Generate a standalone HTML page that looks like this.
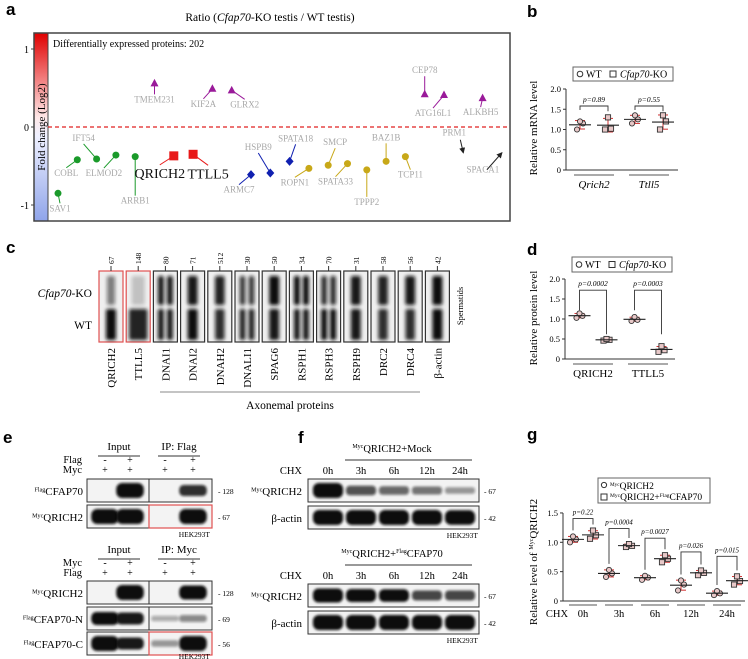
<!DOCTYPE html>
<html><head><meta charset="utf-8">
<style>
html,body{margin:0;padding:0;background:#fff;}
svg{display:block;font-family:"Liberation Serif",serif;}
.pl{font-family:"Liberation Sans",sans-serif;font-weight:bold;font-size:17px;}
</style></head>
<body>
<svg id="fig" width="748" height="659" viewBox="0 0 748 659" xmlns="http://www.w3.org/2000/svg">
<defs>
<linearGradient id="cbar" x1="0" y1="0" x2="0" y2="1">
<stop offset="0" stop-color="#e00000"/><stop offset="0.45" stop-color="#ffe8e8"/><stop offset="0.55" stop-color="#eef0ff"/><stop offset="1" stop-color="#8fa4ea"/>
</linearGradient>
<filter id="blur" x="-50%" y="-50%" width="200%" height="200%"><feGaussianBlur stdDeviation="1.3"/></filter>
<filter id="blur2" x="-50%" y="-50%" width="200%" height="200%"><feGaussianBlur stdDeviation="1.8"/></filter>
<marker id="arr" markerWidth="6" markerHeight="6" refX="5" refY="3" orient="auto"><path d="M0,0 L6,3 L0,6 z" fill="#222"/></marker>
</defs>
<text class="pl" x="6" y="15">a</text>
<text class="pl" x="527" y="17">b</text>
<text class="pl" x="6" y="253">c</text>
<text class="pl" x="527" y="255">d</text>
<text class="pl" x="3" y="443">e</text>
<text class="pl" x="298" y="443">f</text>
<text class="pl" x="527" y="440">g</text>

<text x="270" y="21" font-size="11.5" text-anchor="middle">Ratio (<tspan font-style="italic">Cfap70</tspan>-KO testis / WT testis)</text>
<rect x="34" y="33" width="14" height="188" fill="url(#cbar)"/>
<rect x="34" y="33" width="476" height="188" fill="none" stroke="#444" stroke-width="1.5"/>
<line x1="48" y1="33" x2="48" y2="221" stroke="#444" stroke-width="1"/>
<text transform="translate(45,127) rotate(-90)" font-size="11" text-anchor="middle">Fold change (Log2)</text>
<text x="53" y="47" font-size="10">Differentially expressed proteins: 202</text>
<g id="ga"></g>

<g id="gb"></g>
<g id="gd"></g>
<g id="gg"></g>
<g id="gc"></g>
<g id="ge"></g>
<g id="gf"></g>
</svg>
<script>
const NS='http://www.w3.org/2000/svg';
function mk(tag,attrs,parent){const e=document.createElementNS(NS,tag);for(const k in attrs)e.setAttribute(k,attrs[k]);parent.appendChild(e);return e;}
function tx(parent,x,y,str,attrs){const e=mk('text',Object.assign({x:x,y:y},attrs||{}),parent);e.textContent=str;return e;}
function supText(parent,x,y,sup,main,size,anchor){const e=mk('text',{x:x,y:y,'font-size':size,'text-anchor':anchor||'start'},parent);const s=mk('tspan',{'font-size':size*0.55,dy:-size*0.3},e);s.textContent=sup;const m=mk('tspan',{dy:size*0.3},e);m.textContent=main;return e;}

/* ---------- Panel a data ---------- */
const aProteins=['SAV1','COBL','IFT54','ELMOD2','ARRB1','TMEM231','QRICH2','TTLL5','KIF2A','GLRX2','ARMC7','HSPB9','SPATA18','ROPN1','SMCP','SPATA33','TPPP2','BAZ1B','TCP11','CEP78','ATG16L1','PRM1','ALKBH5','SPACA1'];
const aLog2FC=[-0.85,-0.42,-0.41,-0.36,-0.38,0.56,-0.37,-0.35,0.49,0.47,-0.61,-0.59,-0.44,-0.53,-0.49,-0.47,-0.55,-0.44,-0.38,0.42,0.41,-0.33,0.37,-0.33];
const aClass=['g','g','g','g','g','p','r','r','p','p','b','b','b','y','y','y','y','y','y','p','p','k','p','k'];
const aTicks=[1,0,-1];
const aLabelDx=[2,-11,-13,-12,0,0,-14,15,-9,13,-12,-12,6,-14,7,-12,0,0,5,0,-11,-9,-2,-19];
const aLabelDy=[18,16,-18,21,47,19,22,24,18,17,18,-23,-20,17,-20,21,35,-21,21,-21,21,-17,17,20];
const aColors={g:'#1a9a2a',p:'#9a1a9a',r:'#e81818',b:'#1020b0',y:'#c8a818',k:'#222'};
const ax=i=>58+19.3*i;
const ay=v=>127-78*v;
const ga=document.getElementById('ga');
aTicks.forEach(t=>{
 const l=tx(ga,29,ay(t)+4,String(t),{'font-size':10,'text-anchor':'end'});
 
 
 const tk=mk('line',{x1:31,x2:34,y1:ay(t),y2:ay(t),stroke:'#444'},ga);
 
 
});
const zl=mk('line',{x1:48,x2:510,y1:ay(0),y2:ay(0),stroke:'#e02020','stroke-width':1.2,'stroke-dasharray':'4,3'},ga);


aProteins.forEach((name,i)=>{
 const x=ax(i),y=ay(aLog2FC[i]),c=aClass[i];
 const lx=x+aLabelDx[i],ly=y+aLabelDy[i];
 const big=(c==='r');
 const col=aColors[c];
 if(c==='k'){
  let x0,y0;
  if(name==='PRM1'){x0=x-3;y0=y-13;}else{x0=x-15;y0=y+17;}
  const ar=mk('line',{x1:x0,y1:y0,x2:x,y2:y,stroke:'#222','stroke-width':1,'marker-end':'url(#arr)'},ga);
  
  
 } else {
  const ly2=ly<y?ly+3:ly-(big?13:8);
  const cn=mk('line',{x1:x,y1:y,x2:lx,y2:ly2,stroke:col,'stroke-width':1},ga);
  
  
  let m;
  if(c==='g'||c==='y') m=mk('circle',{cx:x,cy:y,r:3.5,fill:col},ga);
  else if(c==='r') m=mk('rect',{x:x-4.5,y:y-4.5,width:9,height:9,fill:col},ga);
  else if(c==='b') m=mk('polygon',{points:`${x},${y-4.5} ${x+4},${y} ${x},${y+4.5} ${x-4},${y}`,fill:col},ga);
  else m=mk('polygon',{points:`${x},${y-4.5} ${x+4},${y+3} ${x-4},${y+3}`,fill:col},ga);
  
  
 }
 const t=tx(ga,lx,ly,name,{'font-size':big?14:9,fill:big?'#111':'#a8a8a8','text-anchor':'middle'});
 
 
});

/* ---------- Panel b data ---------- */
const bGroups=['Qrich2','Ttll5'];
const bWT=[[1.0,1.15,1.2],[1.15,1.25,1.35]];
const bKO=[[1.0,1.02,1.3],[1.0,1.2,1.35]];
const bP=['p=0.89','p=0.55'];
const bTicks=[0,0.5,1.0,1.5,2.0];
/* ---------- Panel d data ---------- */
const dGroups=['QRICH2','TTLL5'];
const dWT=[[1.03,1.08,1.14],[0.95,0.98,1.05]];
const dKO=[[0.46,0.48,0.5],[0.18,0.22,0.32]];
const dP=['p=0.0002','p=0.0003'];
const dTicks=[0,0.5,1.0,1.5,2.0];
/* ---------- Panel g data ---------- */
const gGroups=['0h','3h','6h','12h','24h'];
const gCtrl=[[1.0,1.05,1.1],[0.41,0.47,0.53],[0.36,0.40,0.43],[0.18,0.28,0.35],[0.1,0.13,0.17]];
const gCfap=[[1.06,1.12,1.2],[0.92,0.94,0.97],[0.66,0.72,0.78],[0.44,0.48,0.52],[0.28,0.34,0.42]];
const gP=['p=0.22','p=0.0004','p=0.0027','p=0.026','p=0.015'];
const gTicks=[0,0.5,1.0,1.5];

function mean(a){return a.reduce((s,v)=>s+v,0)/a.length;}
function sd(a){const m=mean(a);return Math.sqrt(a.reduce((s,v)=>s+(v-m)*(v-m),0)/(a.length-1));}
function drawGroup(g,xc,vals,yS,shape,tag){
 const m=mean(vals),s=sd(vals);
 const eb=mk('line',{x1:xc,x2:xc,y1:yS(m+s),y2:yS(m-s),stroke:'#d03030','stroke-width':1},g);
 
 
 [m+s,m-s].forEach(v=>{const cp=mk('line',{x1:xc-5,x2:xc+5,y1:yS(v),y2:yS(v),stroke:'#d03030','stroke-width':1},g);
  
  });
 const jit=[-3,3,0];
 vals.forEach((v,k)=>{
  let p;
  if(shape==='c')p=mk('circle',{cx:xc+jit[k],cy:yS(v),r:2.6,fill:'#e8c8c8',stroke:'#333','stroke-width':0.9},g);
  else p=mk('rect',{x:xc+jit[k]-2.6,y:yS(v)-2.6,width:5.2,height:5.2,fill:'#e8c8c8',stroke:'#333','stroke-width':0.9},g);
  
  
 });
 const ml=mk('line',{x1:xc-11,x2:xc+11,y1:yS(m),y2:yS(m),stroke:'#222','stroke-width':1.1},g);
 
 
}
function drawAxis(g,x0,x1,yS,ticks,fmt){
 const ya=mk('line',{x1:x0,x2:x0,y1:yS(ticks[ticks.length-1]),y2:yS(0),stroke:'#333'},g);
 
 
 const xa=mk('line',{x1:x0,x2:x1,y1:yS(0),y2:yS(0),stroke:'#333'},g);
 
 
 ticks.forEach(t=>{
  const tk=mk('line',{x1:x0-3,x2:x0,y1:yS(t),y2:yS(t),stroke:'#333'},g);
  
  
  const tl=tx(g,x0-5,yS(t)+3,fmt(t),{'font-size':8.5,'text-anchor':'end'});
  
  
 });
}
const fmtT=t=>t===0?'0':t.toFixed(1);
function bracket(g,xa,ya,xb,yb,ytop,label,fs){
 const p=mk('polyline',{points:`${xa},${ya} ${xa},${ytop} ${xb},${ytop} ${xb},${yb}`,fill:'none',stroke:'#333','stroke-width':0.9},g);
 
 
 const t=tx(g,(xa+xb)/2,ytop-4,label,{'font-size':fs,'text-anchor':'middle','font-style':'italic'});
 
 
}
function legend2(g,x,y,w,h){
 const r=mk('rect',{x:x,y:y,width:w,height:h,fill:'#fff',stroke:'#666'},g);
 
 
 const c=mk('circle',{cx:x+7,cy:y+h/2,r:2.8,fill:'none',stroke:'#333'},g);
 
 
 const t1=tx(g,x+13,y+h/2+3.5,'WT',{'font-size':10});
 
 
 const s=mk('rect',{x:x+37,y:y+h/2-3,width:6,height:6,fill:'none',stroke:'#333'},g);
 
 
 const t2=mk('text',{x:x+47,y:y+h/2+3.5,'font-size':10},g);
 
 
 const ts=mk('tspan',{'font-style':'italic'},t2);ts.textContent='Cfap70';
 const ts2=mk('tspan',{},t2);ts2.textContent='-KO';
}

(function(){
 const g=document.getElementById('gb');
 const yS=v=>170-40.5*v;const xc=i=>594+55*i;
 drawAxis(g,566,678,yS,bTicks,fmtT);
 legend2(g,573,67,100,14);
 const yt=tx(g,0,0,'Relative mRNA level',{'font-size':11,'text-anchor':'middle',transform:'translate(537,128) rotate(-90)'});
 
 
 bGroups.forEach((n,i)=>{
  drawGroup(g,xc(i)-14,bWT[i],yS,'c','wt-'+n);
  drawGroup(g,xc(i)+14,bKO[i],yS,'s','ko-'+n);
  bracket(g,xc(i)-14,yS(1.48),xc(i)+14,yS(1.45),yS(1.58),bP[i],7.5);
  const u=mk('line',{x1:xc(i)-20,x2:xc(i)+20,y1:175,y2:175,stroke:'#555'},g);
  
  
  const l=tx(g,xc(i),188,n,{'font-size':11,'font-style':'italic','text-anchor':'middle'});
  
  
 });
})();
(function(){
 const g=document.getElementById('gd');
 const yS=v=>359-40*v;const xc=i=>593+55*i;
 drawAxis(g,565,675,yS,dTicks,fmtT);
 legend2(g,572,257,100,15);
 const yt=tx(g,0,0,'Relative protein level',{'font-size':11,'text-anchor':'middle',transform:'translate(537,318) rotate(-90)'});
 
 
 dGroups.forEach((n,i)=>{
  drawGroup(g,xc(i)-13.5,dWT[i],yS,'c','wt-'+n);
  drawGroup(g,xc(i)+13.5,dKO[i],yS,'s','ko-'+n);
  bracket(g,xc(i)-13.5,yS(1.22),xc(i)+13.5,yS(0.62),yS(1.72),dP[i],7.5);
  const u=mk('line',{x1:xc(i)-20,x2:xc(i)+20,y1:364,y2:364,stroke:'#555'},g);
  
  
  const l=tx(g,xc(i),377,n,{'font-size':11,'text-anchor':'middle'});
  
  
 });
})();
(function(){
 const g=document.getElementById('gg');
 const yS=v=>601-58.7*v;const xc=i=>583+36*i;
 drawAxis(g,563,745,yS,gTicks,fmtT);
 const r=mk('rect',{x:598,y:478,width:112,height:25,fill:'#fff',stroke:'#666'},g);
 
 
 const c=mk('circle',{cx:604,cy:485,r:2.6,fill:'none',stroke:'#333'},g);
 
 
 const l1=supText(g,610,489,'Myc','QRICH2',9.5);
 
 
 const s=mk('rect',{x:601,y:494,width:6,height:6,fill:'none',stroke:'#333'},g);
 
 
 const l2=mk('text',{x:610,y:500,'font-size':9.5},g);
 
 
 [['Myc',1],['QRICH2+',0],['Flag',1],['CFAP70',0]].forEach(([s_,sup])=>{const ts=mk('tspan',sup?{'font-size':5.5,dy:-3}:{'font-size':9.5,dy:3},l2);ts.textContent=s_;});
 const yt=mk('text',{'font-size':11,'text-anchor':'middle',transform:'translate(537,562) rotate(-90)'},g);
 
 
 const a1=mk('tspan',{},yt);a1.textContent='Relative level of ';
 const a2=mk('tspan',{'font-size':6,dy:-4},yt);a2.textContent='Myc';
 const a3=mk('tspan',{dy:4},yt);a3.textContent='QRICH2';
 const chx=tx(g,557,617,'CHX',{'font-size':10.5,'text-anchor':'middle'});
 
 
 gGroups.forEach((n,i)=>{
  drawGroup(g,xc(i)-10,gCtrl[i],yS,'c','ctrl-'+n);
  drawGroup(g,xc(i)+10,gCfap[i],yS,'s','cfap70-'+n);
  const top=Math.max(...gCtrl[i],...gCfap[i]);
  const topC=Math.max(...gCtrl[i]),topF=Math.max(...gCfap[i]);
  const yb=yS(top)-(i===0?12:14+i*1.5);
  bracket(g,xc(i)-10,yS(topC)-6,xc(i)+10,yS(topF)-6,yb,gP[i],7);
  const u=mk('line',{x1:xc(i)-14,x2:xc(i)+14,y1:605,y2:605,stroke:'#555'},g);
  
  
  const l=tx(g,xc(i),617,n,{'font-size':10.5,'text-anchor':'middle'});
  
  
 });
})();

/* ---------- Panel c blots ---------- */
const cAll=['QRICH2','TTLL5','DNAI1','DNAI2','DNAH2','DNALI1','SPAG6','RSPH1','RSPH3','RSPH9','DRC2','DRC4','β-actin'];
const cKDa=['67','148','80','71','512','30','50','34','70','31','58','56','42'];
const cKO=[0.5,0.2,0.95,0.95,0.9,0.8,1,1,0.85,0.95,0.9,0.95,1];
const cWT=[1,0.9,0.95,1,0.85,0.9,0.95,0.95,1,0.95,0.85,0.85,1];
const cDoublet=[0,0,1,0,0,1,0,1,1,0,0,0,0];
(function(){
 const g=document.getElementById('gc');
 const bx=i=>99+27.2*i;
 const lk=tx(g,92,297,'',{'font-size':11.5,'text-anchor':'end'});
 
 
 const k1=mk('tspan',{'font-style':'italic'},lk);k1.textContent='Cfap70';
 const k2=mk('tspan',{},lk);k2.textContent='-KO';
 const lw=tx(g,92,329,'WT',{'font-size':11.5,'text-anchor':'end'});
 
 
 cAll.forEach((n,i)=>{
  const x=bx(i);
  const red=i<2;
  const box=mk('rect',{x:x,y:271,width:24,height:71,fill:'#efefef',stroke:red?'#e05050':'#333','stroke-width':1.2},g);
  
  
  [[cKO[i],276,305],[cWT[i],309,340]].forEach(([v,y0,y1])=>{
   const xs=cDoublet[i]?[x+7.5,x+16.5]:[x+12];
   xs.forEach(cx=>{
    const w=(cDoublet[i]?6:(i===1?19:10))*(0.6+0.4*v);
    const b=mk('rect',{x:cx-w/2,y:y0,width:w,height:y1-y0,rx:2,fill:'#0a0a0a',opacity:v,filter:'url(#blur2)'},g);
    
    
   });
  });
  const tk=mk('line',{x1:x+12,x2:x+12,y1:266,y2:271,stroke:'#333'},g);
  
  
  const kd=tx(g,0,0,cKDa[i],{'font-size':7.5,transform:`translate(${x+15},264) rotate(-90)`});
  
  
  const nl=tx(g,0,0,n,{'font-size':11,'text-anchor':'end',transform:`translate(${x+16},348) rotate(-90)`});
  
  
 });
 const ln=mk('line',{x1:160,x2:420,y1:392,y2:392,stroke:'#888'},g);
 
 
 const at=tx(g,290,409,'Axonemal proteins',{'font-size':11.5,'text-anchor':'middle'});
 
 
 const sp=tx(g,0,0,'Spermatids',{'font-size':8.5,'text-anchor':'middle',transform:'translate(463,306) rotate(-90)'});
 
 
})();

function blot(g,x,y,w,h,lanes,vals,name,redRight,divider){
 const r=mk('rect',{x:x,y:y,width:w,height:h,fill:'#f3f3f3',stroke:'#333'},g);
 
 
 vals.forEach((v,k)=>{
  if(v<=0)return;
  const bw=(w/lanes.length)*0.88;
  const bh=5+10*v;
  const b=mk('rect',{x:lanes[k]-bw/2,y:y+h/2-bh/2,width:bw,height:bh,rx:bh/2.5,fill:'#0a0a0a',opacity:Math.min(1,0.25+v),filter:'url(#blur)'},g);
  
  
 });
 if(divider){const d=mk('line',{x1:divider,x2:divider,y1:y,y2:y+h,stroke:'#333'},g);
  
  }
 if(redRight){const rr=mk('rect',{x:divider,y:y,width:x+w-divider,height:h,fill:'none',stroke:'#e05050','stroke-width':1.2},g);
  
  }
}
const eLaneX=[105,130,165,193];
const eFlagCFAP70=[0,1,0,0.6];
const eMycQRICH2=[1,1,0,1];
const eMycQRICH2b=[0,1,0,0.9];
const eFlagN=[0.8,0.7,0.05,0.2];
const eFlagC=[1,0.7,0.15,1];
(function(){
 const g=document.getElementById('ge');
 function header(y,ip,r1,r2,s1,s2){
  const a=tx(g,119,y,'Input',{'font-size':11,'text-anchor':'middle'});
  
  
  const b=tx(g,179,y,ip,{'font-size':11,'text-anchor':'middle'});
  
  
  [[98,140],[158,200]].forEach(([a1,a2])=>{const l=mk('line',{x1:a1,x2:a2,y1:y+6,y2:y+6,stroke:'#333'},g);
   
   });
  const t1=tx(g,82,y+13,r1,{'font-size':10.5,'text-anchor':'end'});
  
  
  const t2=tx(g,82,y+23,r2,{'font-size':10.5,'text-anchor':'end'});
  
  
  eLaneX.forEach((lx,k)=>{
   const q=tx(g,lx,y+13,s1[k],{'font-size':10,'text-anchor':'middle'});
   
   
   const q2=tx(g,lx,y+23,s2[k],{'font-size':10,'text-anchor':'middle'});
   
   
  });
 }
 header(450,'IP: Flag','Flag','Myc',['-','+','-','+'],['+','+','+','+']);
 header(553,'IP: Myc','Myc','Flag',['-','+','-','+'],['+','+','+','+']);
 const rows=[[479,'Flag','CFAP70',eFlagCFAP70,'128',false],[505,'Myc','QRICH2',eMycQRICH2,'67',true],
  [581,'Myc','QRICH2',eMycQRICH2b,'128',false],[607,'Flag','CFAP70-N',eFlagN,'69',false],[632,'Flag','CFAP70-C',eFlagC,'56',true]];
 rows.forEach(([y,sp,nm,vals,kd,red])=>{
  blot(g,87,y,125,23,eLaneX,vals,nm.toLowerCase(),red,149);
  const l=supText(g,83,y+16,sp,nm,11,'end');
  
  
  const k=tx(g,218,y+15,'- '+kd,{'font-size':7.5});
  
  
 });
 [537,659].forEach(y=>{const h=tx(g,210,y,'HEK293T',{'font-size':7.5,'text-anchor':'end'});
  
  });
})();
const fTimes=['0h','3h','6h','12h','24h'];
const fMockQRICH2=[1,0.45,0.35,0.3,0.15];
const fMockActin=[1,1,1,1,0.95];
const fCfapQRICH2=[0.9,0.8,0.75,0.5,0.5];
const fCfapActin=[1,1,1,1,1];
(function(){
 const g=document.getElementById('gf');
 const lx=k=>328+33*k;
 function section(y0,titleParts,q,act){
  const t=mk('text',{x:392,y:y0,'font-size':10.5,'text-anchor':'middle'},g);
  
  
  titleParts.forEach(([s,sup])=>{const ts=mk('tspan',sup?{'font-size':6,dy:-4}:{'font-size':10.5,dy:4},t);ts.textContent=s;});
  const ln=mk('line',{x1:345,x2:472,y1:y0+8,y2:y0+8,stroke:'#333'},g);
  
  
  const c=tx(g,302,y0+22,'CHX',{'font-size':10.5,'text-anchor':'end'});
  
  
  fTimes.forEach((tm,k)=>{const tt=tx(g,lx(k),y0+22,tm,{'font-size':10.5,'text-anchor':'middle'});
   
   });
  const lanes=fTimes.map((_,k)=>lx(k));
  blot(g,308,y0+27,171,23,lanes,q,'myc-qrich2',false,0);
  blot(g,308,y0+54,171,23,lanes,act,'beta-actin',false,0);
  const l1=supText(g,302,y0+43,'Myc','QRICH2',11,'end');
  
  
  const l2=tx(g,302,y0+70,'β-actin',{'font-size':11,'text-anchor':'end'});
  
  
  const k1=tx(g,484,y0+42,'- 67',{'font-size':7.5});
  
  
  const k2=tx(g,484,y0+69,'- 42',{'font-size':7.5});
  
  
  const h=tx(g,478,y0+86,'HEK293T',{'font-size':7.5,'text-anchor':'end'});
  
  
 }
 section(452,[['Myc',1],['QRICH2+Mock',0]],fMockQRICH2,fMockActin);
 section(557,[['Myc',1],['QRICH2+',0],['Flag',1],['CFAP70',0]],fCfapQRICH2,fCfapActin);
})();
</script>
</body></html>
